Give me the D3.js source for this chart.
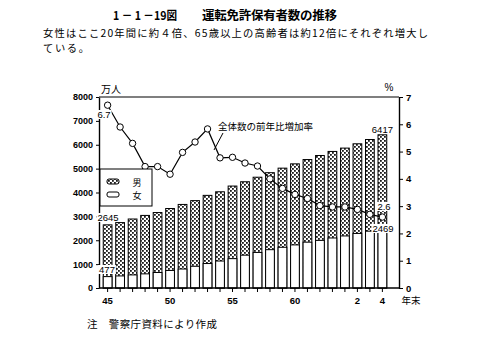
<!DOCTYPE html>
<html><head><meta charset="utf-8">
<script src="https://cdn.jsdelivr.net/npm/d3@7"></script>
<style>body{margin:0;background:#fff} svg{display:block}</style>
</head><body>
<script>
// ---- data (万人 / %) ----
const years = ["45","46","47","48","49","50","51","52","53","54","55","56","57","58","59","60","61","62","63","1","2","3","4"];
const total = [2645,2740,2890,3040,3160,3330,3500,3660,3880,4030,4270,4450,4640,4830,5020,5200,5380,5550,5720,5860,6040,6220,6417];
const female = [477,505,548,592,650,735,795,910,1025,1130,1230,1375,1490,1605,1705,1805,1920,1995,2095,2180,2285,2380,2469];
const rate = [6.7,5.9,5.3,4.45,4.45,4.17,4.97,5.35,5.83,4.77,4.79,4.58,4.47,4.0,3.65,3.43,3.28,3.02,2.97,2.97,2.88,2.7,2.6];
const leftTicks = [0,1000,2000,3000,4000,5000,6000,7000,8000];
const rightTicks = [0,1,2,3,4,5,6,7];
const xTickLabels = ["45","50","55","60","2","4"];
const legendLabels = ["男","女"];

const W = 489, H = 361;
const L = 99, R = 399, T = 97, B = 288;
const svg = d3.select("body").append("svg").attr("width", W).attr("height", H);
svg.append("rect").attr("width", W).attr("height", H).attr("fill", "#fff");

const defs = svg.append("defs");
const pat = defs.append("pattern").attr("id", "dots").attr("patternUnits", "userSpaceOnUse")
  .attr("width", 4).attr("height", 4);
pat.append("rect").attr("width", 4).attr("height", 4).attr("fill", "#fff");
pat.append("rect").attr("x", 0).attr("y", 0).attr("width", 1.8).attr("height", 1.8).attr("fill", "#1a1a1a");
pat.append("rect").attr("x", 2).attr("y", 2).attr("width", 1.8).attr("height", 1.8).attr("fill", "#1a1a1a");

const x = d3.scaleBand().domain(years).range([97, 393]).paddingInner(0.3).paddingOuter(0.5);
const y = d3.scaleLinear().domain([0, 8000]).range([B, T]);
const yr = d3.scaleLinear().domain([0, 7]).range([B, T]);
const cx = d => x(d) + x.bandwidth() / 2;

const numFont = "'Liberation Sans', Arial, sans-serif";
const jpFont = "'Noto Sans CJK JP', sans-serif";

// bars: total (male pattern) then female on top
const bars = svg.append("g");
bars.selectAll("rect.m").data(years).join("rect")
  .attr("x", d => x(d)).attr("width", x.bandwidth())
  .attr("y", (d, i) => y(total[i])).attr("height", (d, i) => y(0) - y(total[i]))
  .attr("fill", "url(#dots)").attr("stroke", "#000").attr("stroke-width", 1);
bars.selectAll("rect.f").data(years).join("rect")
  .attr("x", d => x(d)).attr("width", x.bandwidth())
  .attr("y", (d, i) => y(female[i])).attr("height", (d, i) => y(0) - y(female[i]))
  .attr("fill", "#fff").attr("stroke", "#000").attr("stroke-width", 1);

// frame
svg.append("line").attr("x1", L).attr("x2", R).attr("y1", T).attr("y2", T).attr("stroke", "#000").attr("stroke-width", 1.2);
svg.append("line").attr("x1", L).attr("x2", R).attr("y1", B).attr("y2", B).attr("stroke", "#000").attr("stroke-width", 1.4);

// left axis
const ga = svg.append("g").attr("transform", `translate(${L},0)`)
  .call(d3.axisLeft(y).tickValues(leftTicks).tickSize(3).tickSizeOuter(0).tickPadding(3).tickFormat(d3.format("d")));
ga.select(".domain").attr("stroke-width", 1.4);
ga.selectAll("text").attr("font-family", numFont).attr("font-size", 9).attr("font-weight", "bold");

// right axis
const gr = svg.append("g").attr("transform", `translate(${R},0)`)
  .call(d3.axisRight(yr).tickValues(rightTicks).tickSize(4).tickSizeOuter(0).tickPadding(3).tickFormat(d3.format("d")));
gr.select(".domain").attr("stroke-width", 1.4);
gr.selectAll("text").attr("font-family", numFont).attr("font-size", 9.5).attr("font-weight", "bold");

// bottom axis
const gb = svg.append("g").attr("transform", `translate(0,${B})`)
  .call(d3.axisBottom(x).tickSize(4).tickSizeOuter(0).tickPadding(5).tickFormat(d => xTickLabels.includes(d) ? d : ""));
gb.select(".domain").remove();
gb.selectAll("text").attr("font-family", numFont).attr("font-size", 9.5).attr("font-weight", "bold");

// line
const line = d3.line().x((d, i) => cx(years[i])).y(d => yr(d));
svg.append("path").datum(rate).attr("d", line).attr("fill", "none").attr("stroke", "#000").attr("stroke-width", 1.2);
svg.selectAll("circle.pt").data(rate).join("circle")
  .attr("cx", (d, i) => cx(years[i])).attr("cy", d => yr(d)).attr("r", 3.2)
  .attr("fill", "#fff").attr("stroke", "#000").attr("stroke-width", 1);

// legend
const lg = svg.append("g");
lg.append("rect").attr("x", 100).attr("y", 169).attr("width", 52).attr("height", 37)
  .attr("fill", "#fff").attr("stroke", "#000").attr("stroke-width", 1);
lg.append("rect").attr("x", 107).attr("y", 179).attr("width", 12).attr("height", 5).attr("rx", 2)
  .attr("fill", "url(#dots)").attr("stroke", "#000").attr("stroke-width", 1);
lg.append("rect").attr("x", 107).attr("y", 192).attr("width", 12).attr("height", 5).attr("rx", 2)
  .attr("fill", "#fff").attr("stroke", "#000").attr("stroke-width", 1);
lg.selectAll("text").data(legendLabels).join("text")
  .attr("x", 137).attr("y", (d, i) => 186 + i * 13).attr("text-anchor", "middle")
  .attr("font-family", jpFont).attr("font-size", 9).text(d => d);

// annotations
function label(t, xx, yy, opts = {}) {
  const tx = svg.append("text").attr("x", xx).attr("y", yy).attr("text-anchor", opts.anchor || "middle")
    .attr("font-family", opts.font || numFont).attr("font-size", opts.size || 9)
    .attr("font-weight", opts.weight || "normal").text(t);
  if (opts.bg) {
    const bb = tx.node().getBBox();
    svg.insert("rect", () => tx.node()).attr("x", bb.x - 1).attr("y", bb.y + 1).attr("width", bb.width + 2)
      .attr("height", bb.height - 2).attr("fill", "#fff");
  }
  return tx;
}
label(String(rate[0]), 104, 118, {size: 9.5, bg: true});
label(String(total[0]), 108, 221, {size: 9.5, bg: true});
label(String(female[0]), 107, 273, {size: 9.5, bg: true});
label(String(total[22]), cx(years[22]), 133, {size: 9.5, bg: true});
label(String(rate[22]), 384, 210, {size: 9.5, bg: true});
label(String(female[22]), 383, 232, {size: 9.5, bg: true});

label("万人", 101, 93, {anchor: "start", font: jpFont, size: 10});
label("%", 389, 91, {font: numFont, size: 10});
label("年末", 411, 304, {font: jpFont, size: 9.5});

label("全体数の前年比増加率", 218, 130, {anchor: "start", font: jpFont, size: 9.5});
svg.append("line").attr("x1", 223).attr("y1", 133).attr("x2", 214).attr("y2", 150)
  .attr("stroke", "#000").attr("stroke-width", 1);

// title & text
svg.append("text").attr("x", 113).attr("y", 20).attr("font-family", jpFont).attr("font-size", 12)
  .attr("font-weight", "bold").attr("textLength", 64).attr("lengthAdjust", "spacingAndGlyphs").text("1 － 1 －19図");
svg.append("text").attr("x", 202).attr("y", 20).attr("font-family", jpFont).attr("font-size", 12.5)
  .attr("font-weight", "bold").attr("textLength", 135).text("運転免許保有者数の推移");
svg.append("text").attr("x", 43).attr("y", 37).attr("font-family", jpFont).attr("font-size", 10.3)
  .attr("textLength", 385).attr("lengthAdjust", "spacing")
  .text("女性はここ20年間に約４倍、65歳以上の高齢者は約12倍にそれぞれ増大し");
svg.append("text").attr("x", 43).attr("y", 52).attr("font-family", jpFont).attr("font-size", 10.3)
  .attr("textLength", 46).attr("lengthAdjust", "spacing").text("ている。");
svg.append("text").attr("x", 87).attr("y", 328).attr("font-family", jpFont).attr("font-size", 10.5)
  .attr("textLength", 130).attr("lengthAdjust", "spacing").text("注　警察庁資料により作成");
</script>
</body></html>
